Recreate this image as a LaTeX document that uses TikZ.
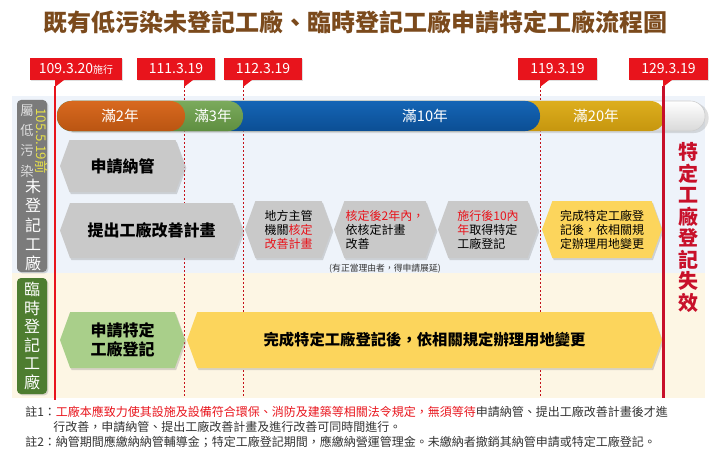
\documentclass[tikz,border=0pt]{standalone}
\usepackage{fontspec}
\setmainfont{Noto Sans CJK TC}
\usetikzlibrary{shapes, shapes.symbols, shadows, positioning}
\definecolor{cafe}{HTML}{7B4A1C}
\definecolor{rojo}{HTML}{E8141C}
\definecolor{rojoosc}{HTML}{C8102A}
\definecolor{grispaso}{HTML}{C9C9C9}
\definecolor{amarillo}{HTML}{FCD55C}
\definecolor{verdepaso}{HTML}{A9CF8A}
\definecolor{verdeosc}{HTML}{4E7D30}
\definecolor{grisosc}{HTML}{7B7B7B}
\definecolor{fondoazul}{HTML}{EEF3FA}
\definecolor{fondocrema}{HTML}{FDF6E4}
\definecolor{texto}{HTML}{333333}
\definecolor{amarillotxt}{HTML}{E6E04A}
\definecolor{oro}{HTML}{DDAE1E}
\definecolor{orooscuro}{HTML}{C6960E}
\definecolor{azul}{HTML}{1565B5}
\definecolor{azuloscuro}{HTML}{0B4E94}
\definecolor{verde}{HTML}{7BAA5C}
\definecolor{verdeoscuro}{HTML}{5E8E40}
\definecolor{naranja}{HTML}{D8691F}
\definecolor{naranjaoscuro}{HTML}{BA5512}
\tikzstyle{paso} = [signal, signal to=west and east, signal pointer angle=140, fill=grispaso, inner sep=0pt, align=center, drop shadow={opacity=0.3, shadow xshift=1pt, shadow yshift=-1.5pt}]
\tikzstyle{pasogrande} = [paso, font=\bfseries\fontsize{12}{14.5}\selectfont]
\tikzstyle{pasochico} = [paso, align=left, minimum height=42.75pt, font=\fontsize{9}{10.5}\selectfont]
\tikzstyle{fecha} = [fill=rojo, text=white, minimum height=16.5pt, inner sep=0pt, font=\fontsize{10.5}{12}\selectfont, drop shadow={opacity=0.25, shadow xshift=1pt, shadow yshift=-1pt}]
\tikzstyle{tramo} = [rounded corners=11pt]
\tikzstyle{punteada} = [rojo!85!black, line width=0.6pt, dash pattern=on 1.5pt off 1.5pt]
\tikzstyle{etiqueta} = [rounded corners=3pt, minimum width=22.5pt, drop shadow={opacity=0.3, shadow xshift=1pt, shadow yshift=-1pt}]
\tikzstyle{nota} = [anchor=west, inner sep=0pt, text=texto, font=\fontsize{9}{11}\selectfont]

\begin{document}
\begin{tikzpicture}[x=0.75pt, y=-0.75pt]
	\useasboundingbox (0,0) rectangle (721,460);
	% titulo
	\node[text=cafe, font=\bfseries\fontsize{18}{20}\selectfont] (titulo) at (355.5,22) {既有低污染未登記工廠、臨時登記工廠申請特定工廠流程圖};
	% fondos
	\fill[fondoazul] (12,96) rectangle (705,273);
	\fill[fondocrema] (12,273) rectangle (705,398);
	% lineas de fechas
	\draw[punteada] (184,86) -- (184,398);
	\draw[punteada] (243,86) -- (243,398);
	\draw[punteada] (540,86) -- (540,398);
	% barra de tiempo
	\shade[tramo, top color=white, bottom color=gray!30, draw=gray!40, drop shadow={opacity=0.25, shadow yshift=-1.5pt}] (57,101) rectangle (705,131);
	\shade[tramo, top color=oro, bottom color=orooscuro] (57,101) rectangle (665,131);
	\shade[tramo, top color=azul, bottom color=azuloscuro] (57,101) rectangle (540,131);
	\shade[tramo, top color=verde, bottom color=verdeoscuro] (57,101) rectangle (243,131);
	\shade[tramo, top color=naranja, bottom color=naranjaoscuro] (57,101) rectangle (185,131);
	\node[text=white, font=\fontsize{11}{13}\selectfont] (a2) at (120,116) {滿2年};
	\node[text=white, font=\fontsize{11}{13}\selectfont] (a3) at (213,116) {滿3年};
	\node[text=white, font=\fontsize{11}{13}\selectfont] (a10) at (425,116) {滿10年};
	\node[text=white, font=\fontsize{11}{13}\selectfont] (a20) at (596,116) {滿20年};
	% etiquetas de la izquierda
	\node[etiqueta, fill=grisosc, minimum height=129pt] (nodjk) at (32,186) {};
	\node[text=gray!25, align=center, inner sep=0pt, font=\fontsize{10}{15.2}\selectfont] (shudi) at (27,141) {屬\\低\\污\\染};
	\node[text=amarillotxt, rotate=-90, inner sep=0pt, font=\fontsize{10}{12}\selectfont] (fecha105) at (41.5,141) {105.5.19前};
	\node[text=white, align=center, inner sep=0pt, font=\fontsize{12}{14.4}\selectfont] (weidj) at (33,225) {未\\登\\記\\工\\廠};
	\node[etiqueta, fill=verdeosc, minimum height=87pt] (linlab) at (32,336) {};
	\node[text=white, align=center, inner sep=0pt, font=\fontsize{12}{13.9}\selectfont] (linsh) at (32,336) {臨\\時\\登\\記\\工\\廠};
	% pasos de arriba
	\node[pasogrande, minimum width=93.75pt, minimum height=39pt] (nagu) at (122.5,166) {申請納管};
	\node[pasogrande, minimum width=137.25pt, minimum height=41.25pt] (plan) at (151.5,230.5) {提出工廠改善計畫};
	\node[pasochico, minimum width=65.25pt] (hedi) at (288.5,229.5) {地方主管\\機關\textcolor{rojo}{核定}\\\textcolor{rojo}{改善計畫}};
	\node[pasochico, minimum width=76.5pt] (gais) at (385,229.5) {\textcolor{rojo}{核定後2年內，}\\依核定計畫\\改善};
	\node[pasochico, minimum width=75pt] (qude) at (488,229.5) {\textcolor{rojo}{施行後10內}\\\textcolor{rojo}{年}取得特定\\工廠登記};
	\node[pasochico, fill=amarillo, minimum width=90pt] (wanc) at (602,229.5) {完成特定工廠登\\記後，依相關規\\定辦理用地變更};
	\node[text=texto, font=\fontsize{6.6}{8}\selectfont] (yanq) at (385,269) {(有正當理由者，得申請展延)};
	% pasos de abajo
	\node[pasogrande, fill=verdepaso, minimum width=93.75pt, minimum height=42pt] (shen) at (122.5,340) {申請特定\\工廠登記};
	\node[pasogrande, fill=amarillo, minimum width=356.25pt, minimum height=42pt, font=\bfseries\fontsize{11.5}{14}\selectfont] (bian) at (424.5,340) {完成特定工廠登記後，依相關規定辦理用地變更};
	% lineas solidas
	\draw[rojo, line width=1.5pt] (55,86) -- (55,400);
	\draw[rojoosc, line width=2.25pt] (663,86) -- (663,398);
	% fechas
	\node[fecha, minimum width=69pt] (f109) at (76,69) {109.3.20{\fontsize{7.5}{9}\selectfont 施行}};
	\node[fecha, minimum width=58.5pt] (f111) at (176,69) {111.3.19};
	\node[fecha, minimum width=58.5pt] (f112) at (263,69) {112.3.19};
	\node[fecha, minimum width=59.25pt] (f119) at (557.5,69) {119.3.19};
	\node[fecha, minimum width=59.25pt] (f129) at (668.5,69) {129.3.19};
	\fill[rojo] (55,80) -- (55,87) -- (64,80) -- cycle;
	\fill[rojo] (184,80) -- (184,87) -- (193,80) -- cycle;
	\fill[rojo] (243,80) -- (243,87) -- (252,80) -- cycle;
	\fill[rojo] (540,80) -- (540,87) -- (549,80) -- cycle;
	\fill[rojo] (663,80) -- (663,87) -- (672,80) -- cycle;
	% texto de la derecha
	\node[text=rojoosc, align=center, inner sep=0pt, font=\bfseries\fontsize{15}{16.1}\selectfont] (shixiao) at (688,227.5) {特\\定\\工\\廠\\登\\記\\失\\效};
	% notas
	\node[nota] (nota1) at (25,412) {註1：\textcolor{rojo}{工廠本應致力使其設施及設備符合環保、消防及建築等相關法令規定，無須等待}申請納管、提出工廠改善計畫後才進};
	\node[nota] (nota1b) at (53,427) {行改善，申請納管、提出工廠改善計畫及進行改善可同時間進行。};
	\node[nota] (nota2) at (25,442) {註2：納管期間應繳納納管輔導金；特定工廠登記期間，應繳納營運管理金。未繳納者撤銷其納管申請或特定工廠登記。};
\end{tikzpicture}
\end{document}
